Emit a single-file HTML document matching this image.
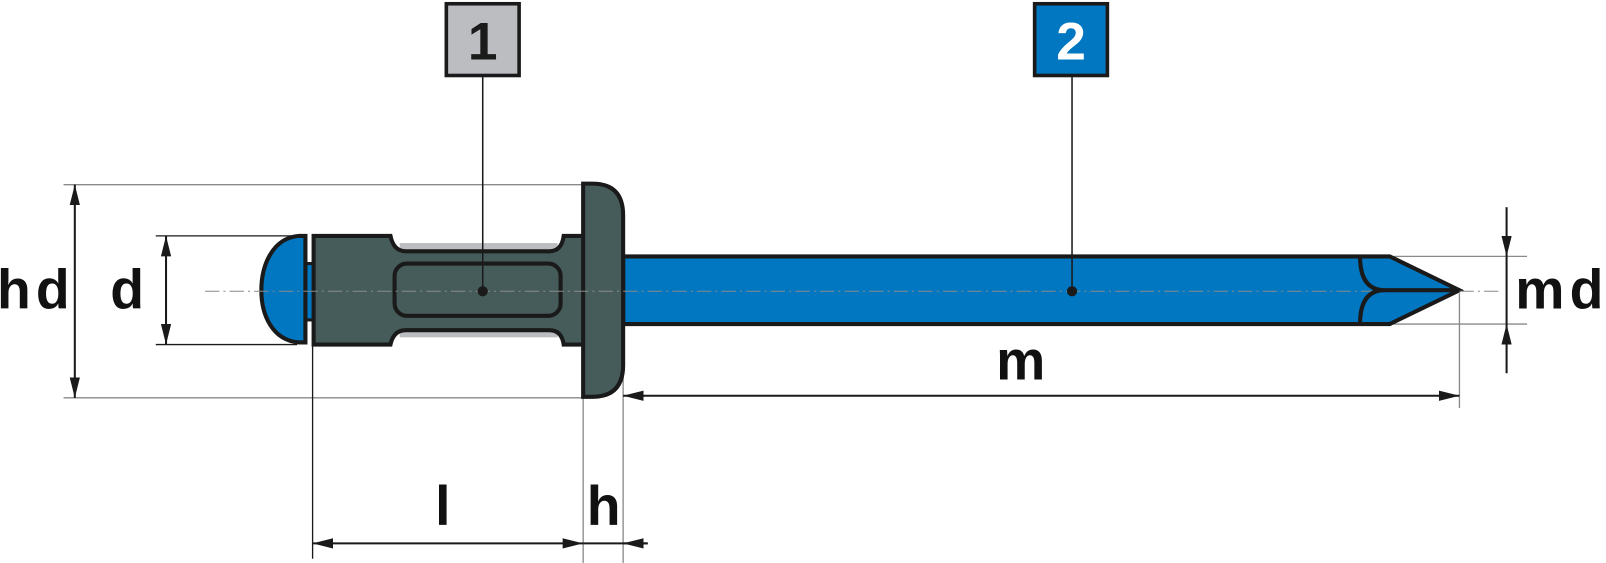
<!DOCTYPE html>
<html><head><meta charset="utf-8"><style>html,body{margin:0;padding:0;background:#fff;overflow:hidden}svg{display:block}</style></head>
<body>
<svg width="1606" height="563" viewBox="0 0 1567 549" xmlns="http://www.w3.org/2000/svg" font-family="Liberation Sans, sans-serif" font-weight="bold">
<defs>
<marker id="a" viewBox="0 0 20 10" refX="20" refY="5" markerWidth="20" markerHeight="10" markerUnits="userSpaceOnUse" orient="auto-start-reverse"><path d="M0,0 L20,5 L0,10 z" fill="#1a1a1a"/></marker>
</defs>
<g stroke="#8a8a8a" stroke-width="1.3" fill="none">
<line x1="62" y1="180" x2="572" y2="180"/>
<line x1="62" y1="388" x2="572" y2="388"/>
<line x1="569" y1="388" x2="569" y2="549"/>
<line x1="608" y1="360" x2="608" y2="549"/>
<line x1="1424" y1="286" x2="1424" y2="398"/>
<line x1="1360" y1="250" x2="1490" y2="250"/>
<line x1="1360" y1="316" x2="1490" y2="316"/>
</g>
<g stroke="#1a1a1a" stroke-width="1.3">
<line x1="152" y1="230" x2="290" y2="230"/>
<line x1="152" y1="336" x2="290" y2="336"/>
<line x1="305" y1="336" x2="305" y2="545"/>
</g>
<g stroke="#1a1a1a" stroke-width="2" fill="none">
<line x1="73" y1="180" x2="73" y2="388" marker-start="url(#a)" marker-end="url(#a)"/>
<line x1="162" y1="230" x2="162" y2="336" marker-start="url(#a)" marker-end="url(#a)"/>
<line x1="305" y1="530" x2="569" y2="530" marker-start="url(#a)" marker-end="url(#a)"/>
<line x1="569" y1="530" x2="632" y2="530"/>
<line x1="632" y1="530" x2="608" y2="530" marker-end="url(#a)"/>
<line x1="608" y1="386" x2="1424" y2="386" marker-start="url(#a)" marker-end="url(#a)"/>
<line x1="1470" y1="202" x2="1470" y2="250" marker-end="url(#a)"/>
<line x1="1470" y1="364" x2="1470" y2="316" marker-end="url(#a)"/>
<line x1="1470" y1="250" x2="1470" y2="316"/>
</g>
<path d="M608,250 L1356,250 L1424,283 L1356,316 L608,316 Z" fill="#0077c0" stroke="#1a1a1a" stroke-width="4"/>
<rect x="297" y="257" width="10" height="55" fill="#0077c0" stroke="#1a1a1a" stroke-width="3"/>
<path d="M298,230 L292,230 C265,232 255,260 255,283 C255,306 265,332 292,334 L298,334 Z" fill="#0077c0" stroke="#1a1a1a" stroke-width="4"/>
<rect x="390" y="237" width="154" height="12" fill="#bcbdc1"/>
<rect x="390" y="318" width="154" height="11" fill="#bcbdc1"/>
<path d="M306,230 L381,230 Q384,245 396,245 L536,245 Q548,245 550,230 L570,230 L570,336 L550,336 Q548,322 536,322 L396,322 Q384,322 381,336 L306,336 Z" fill="#465c5b" stroke="#1a1a1a" stroke-width="4"/>
<rect x="385" y="257" width="162" height="51" rx="12" fill="none" stroke="#1a1a1a" stroke-width="4"/>
<path d="M569,179 L578,179 Q608,179 608,210 L608,356 Q608,387 578,387 L569,387 Z" fill="#465c5b" stroke="#1a1a1a" stroke-width="4"/>
<line x1="200" y1="284" x2="1340" y2="284" stroke="#8a8a8a" stroke-width="1" stroke-dasharray="14,4,2,4"/>
<line x1="1424" y1="284" x2="1465" y2="284" stroke="#8a8a8a" stroke-width="1" stroke-dasharray="14,4,2,4"/>
<path d="M1327,250 Q1327,283 1351,283 Q1327,283 1327,316 M1351,283 L1424,283" fill="none" stroke="#1a1a1a" stroke-width="4"/>
<g stroke="#1a1a1a" stroke-width="1.5">
<line x1="471" y1="75" x2="471" y2="284"/>
<line x1="1046" y1="75" x2="1046" y2="284"/>
</g>
<circle cx="471" cy="284" r="5" fill="#1a1a1a"/>
<circle cx="1046" cy="284" r="5" fill="#1a1a1a"/>
<rect x="435.5" y="3.5" width="71" height="70" fill="#bcbdc1" stroke="#1a1a1a" stroke-width="3.5"/>
<text x="471" y="58" font-size="52" text-anchor="middle" fill="#1a1a1a">1</text>
<rect x="1009.5" y="3.5" width="71" height="70" fill="#0077c0" stroke="#1a1a1a" stroke-width="3.5"/>
<text x="1045" y="58" font-size="52" text-anchor="middle" fill="#fff">2</text>
<g font-size="54" fill="#111" text-anchor="middle">
<text x="35" y="301" letter-spacing="5">hd</text>
<text x="124" y="301">d</text>
<text x="996" y="370">m</text>
<text x="432" y="512">l</text>
<text x="589" y="512">h</text>
<text x="1524" y="301" letter-spacing="5">md</text>
</g>
</svg>
</body></html>
